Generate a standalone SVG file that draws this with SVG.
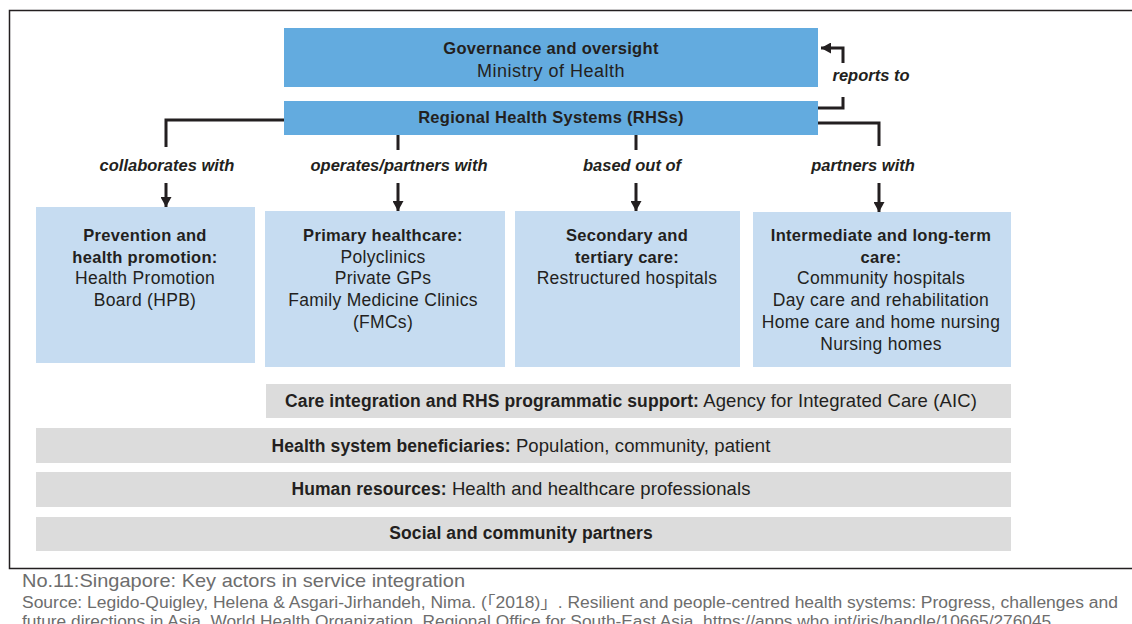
<svg xmlns="http://www.w3.org/2000/svg" width="1132" height="624" viewBox="0 0 1132 624">
<style>
text{font-family:"Liberation Sans",Arial,sans-serif;fill:#231f20;font-size:17.5px;letter-spacing:0.3px}
.b{font-weight:bold;font-size:16.5px;letter-spacing:0.3px}
.lab{font-weight:bold;font-style:italic;font-size:16.5px;letter-spacing:0}
.bar{font-size:18.5px;letter-spacing:0.1px}
.bar .b{font-size:17.5px;letter-spacing:0.1px}
.dark{fill:#63abdf}
.light{fill:#c6dcf1}
.gray{fill:#dcdcdc}
.conn{fill:none;stroke:#231f20;stroke-width:3}
.cap{fill:#6d6d6d;letter-spacing:0}
</style>
<defs>
<marker id="ah" markerUnits="userSpaceOnUse" markerWidth="11" markerHeight="11" refX="10" refY="5.5" orient="auto">
<path d="M0,0 L10,5.5 L0,11 z" fill="#231f20"/>
</marker>
</defs>
<rect width="1132" height="624" fill="#ffffff"/>
<g id="frame" fill="none" stroke="#231f20" stroke-width="1.5">
<path d="M1132,10.5 H9.5 V568.5 H1132"/>
</g>
<g id="governance">
<rect class="dark" x="284" y="28" width="534" height="59"/>
<text class="b" x="551" y="54" text-anchor="middle">Governance and oversight</text>
<text x="551" y="77" text-anchor="middle" style="font-size:18px;letter-spacing:0.5px">Ministry of Health</text>
</g>
<g id="rhs">
<rect class="dark" x="284" y="101" width="534" height="34"/>
<text class="b" x="551" y="123" text-anchor="middle">Regional Health Systems (RHSs)</text>
</g>
<g id="connectors">
<path class="conn" d="M818,108 H843 V97"/>
<path class="conn" d="M843,63 V48 H821" marker-end="url(#ah)"/>
<path class="conn" d="M284,120 H166 V147"/>
<path class="conn" d="M398,135 V150"/>
<path class="conn" d="M636,135 V150"/>
<path class="conn" d="M818,123 H879 V146"/>
<path class="conn" d="M166,183 V207" marker-end="url(#ah)"/>
<path class="conn" d="M398,183 V211" marker-end="url(#ah)"/>
<path class="conn" d="M636,183 V211" marker-end="url(#ah)"/>
<path class="conn" d="M879,183 V212" marker-end="url(#ah)"/>
<text class="lab" x="871" y="81" text-anchor="middle">reports to</text>
<text class="lab" x="167" y="171" text-anchor="middle">collaborates with</text>
<text class="lab" x="399" y="171" text-anchor="middle">operates/partners with</text>
<text class="lab" x="632" y="171" text-anchor="middle">based out of</text>
<text class="lab" x="863" y="171" text-anchor="middle">partners with</text>
</g>
<g id="prevention">
<rect class="light" x="36" y="207" width="219" height="156"/>
<text class="b" x="145" y="241" text-anchor="middle">Prevention and</text>
<text class="b" x="145" y="263" text-anchor="middle">health promotion:</text>
<text x="145" y="284" text-anchor="middle">Health Promotion</text>
<text x="145" y="306" text-anchor="middle">Board (HPB)</text>
</g>
<g id="primary">
<rect class="light" x="265" y="211" width="240" height="156"/>
<text class="b" x="383" y="241" text-anchor="middle">Primary healthcare:</text>
<text x="383" y="263" text-anchor="middle">Polyclinics</text>
<text x="383" y="284" text-anchor="middle">Private GPs</text>
<text x="383" y="306" text-anchor="middle">Family Medicine Clinics</text>
<text x="383" y="328" text-anchor="middle">(FMCs)</text>
</g>
<g id="secondary">
<rect class="light" x="515" y="211" width="225" height="156"/>
<text class="b" x="627" y="241" text-anchor="middle">Secondary and</text>
<text class="b" x="627" y="263" text-anchor="middle">tertiary care:</text>
<text x="627" y="284" text-anchor="middle">Restructured hospitals</text>
</g>
<g id="intermediate">
<rect class="light" x="753" y="212" width="258" height="155"/>
<text class="b" x="881" y="241" text-anchor="middle">Intermediate and long-term</text>
<text class="b" x="881" y="263" text-anchor="middle">care:</text>
<text x="881" y="284" text-anchor="middle">Community hospitals</text>
<text x="881" y="306" text-anchor="middle">Day care and rehabilitation</text>
<text x="881" y="328" text-anchor="middle">Home care and home nursing</text>
<text x="881" y="350" text-anchor="middle">Nursing homes</text>
</g>
<g id="care-integration">
<rect class="gray" x="266" y="384" width="745" height="34"/>
<text class="bar" x="631" y="407" text-anchor="middle"><tspan class="b">Care integration and RHS programmatic support:</tspan> Agency for Integrated Care (AIC)</text>
</g>
<g id="beneficiaries">
<rect class="gray" x="36" y="428" width="975" height="35"/>
<text class="bar" x="521" y="452" text-anchor="middle"><tspan class="b">Health system beneficiaries:</tspan> Population, community, patient</text>
</g>
<g id="human-resources">
<rect class="gray" x="36" y="472" width="975" height="35"/>
<text class="bar" x="521" y="495" text-anchor="middle"><tspan class="b">Human resources:</tspan> Health and healthcare professionals</text>
</g>
<g id="social">
<rect class="gray" x="36" y="517" width="975" height="34"/>
<text class="bar" x="521" y="539" text-anchor="middle"><tspan class="b">Social and community partners</tspan></text>
</g>
<g id="caption">
<text class="cap" x="22" y="587" style="font-size:19px" textLength="443" lengthAdjust="spacingAndGlyphs">No.11:Singapore: Key actors in service integration</text>
<text class="cap" x="22" y="608" style="font-size:16px;font-family:'Liberation Sans','Noto Sans CJK SC',sans-serif" textLength="1096" lengthAdjust="spacingAndGlyphs">Source: Legido-Quigley, Helena &amp; Asgari-Jirhandeh, Nima. (「2018)」. Resilient and people-centred health systems: Progress, challenges and</text>
<text class="cap" x="22" y="627" style="font-size:16px" textLength="1034" lengthAdjust="spacingAndGlyphs">future directions in Asia. World Health Organization. Regional Office for South-East Asia. https://apps.who.int/iris/handle/10665/276045.</text>
</g>
</svg>
